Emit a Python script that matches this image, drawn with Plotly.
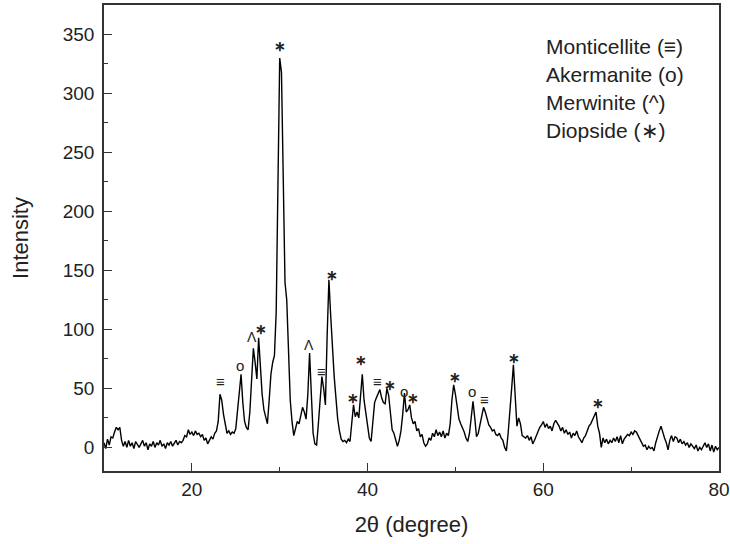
import plotly.graph_objects as go

# 2-theta grid (degrees), 0.2 step, rows of one degree
two_theta = [round(10 + 0.2 * i, 1) for i in range(351)]

intensity = (
    [4, -1, 7, 2, 9] +          # 10
    [8, 13, 17, 15, 17] +       # 11
    [6, 1, 5, 0, 6] +           # 12
    [1, 4, -1, 5, 2] +          # 13
    [0, 3, 6, 1, 4] +           # 14
    [-2, 3, 1, 5, 0] +          # 15
    [4, 2, 6, 1, 3] +           # 16
    [-1, 4, 2, 5, 1] +          # 17
    [3, 6, 2, 5, 4] +           # 18
    [6, 10, 9, 15, 11] +        # 19
    [13, 10, 14, 11, 12] +      # 20
    [9, 11, 6, 8, 3] +          # 21
    [6, 9, 7, 12, 14] +         # 22
    [22, 45, 40, 28, 20] +      # 23
    [12, 14, 11, 13, 12] +      # 24
    [16, 30, 50, 62, 38] +      # 25
    [22, 17, 15, 30, 60] +      # 26
    [84, 72, 58, 93, 70] +      # 27
    [45, 32, 25, 20, 40] +      # 28
    [62, 72, 78, 115, 250] +    # 29
    [330, 318, 205, 140, 125] + # 30
    [75, 40, 22, 10, 16] +      # 31
    [22, 20, 27, 34, 30] +      # 32
    [24, 45, 80, 45, 12] +      # 33
    [3, 2, 20, 45, 60] +        # 34
    [50, 36, 95, 142, 112] +    # 35
    [80, 60, 42, 24, 14] +      # 36
    [7, 5, 6, 4, 7] +           # 37
    [5, 20, 36, 26, 30] +       # 38
    [25, 45, 62, 40, 30] +      # 39
    [22, 8, 5, 25, 38] +        # 40
    [42, 46, 49, 42, 38] +      # 41
    [37, 50, 44, 28, 15] +      # 42
    [12, 5, 1, 6, 14] +         # 43
    [28, 46, 30, 32, 36] +      # 44
    [25, 20, 22, 14, 16] +      # 45
    [9, 11, 4, 1, 3] +          # 46
    [8, 6, 12, 9, 15] +         # 47
    [10, 13, 9, 14, 8] +        # 48
    [12, 10, 20, 40, 53] +      # 49
    [45, 33, 24, 20, 17] +      # 50
    [13, 8, 5, 12, 25] +        # 51
    [39, 25, 9, 12, 20] +       # 52
    [28, 34, 30, 24, 19] +      # 53
    [17, 14, 15, 11, 10] +      # 54
    [12, 8, 6, 0, -3] +         # 55
    [12, 35, 50, 70, 45] +      # 56
    [18, 25, 20, 10, 9] +       # 57
    [8, 10, 6, 9, 3] +          # 58
    [6, 10, 14, 17, 19] +       # 59
    [22, 17, 20, 16, 18] +      # 60
    [14, 20, 23, 21, 18] +      # 61
    [14, 17, 12, 15, 11] +      # 62
    [13, 8, 12, 10, 14] +       # 63
    [9, 6, 4, 8, 10] +          # 64
    [14, 18, 20, 23, 26] +      # 65
    [30, 18, 12, 0, 8] +        # 66
    [4, 7, 3, 6, 4] +           # 67
    [8, 5, 9, 4, 10] +          # 68
    [3, 7, 9, 11, 10] +         # 69
    [13, 11, 14, 13, 10] +      # 70
    [8, 5, 1, 2, -2] +          # 71
    [1, -1, 0, -3, 4] +         # 72
    [10, 14, 18, 12, 8] +       # 73
    [4, -2, 6, 10, 5] +         # 74
    [9, 8, 4, 7, 3] +           # 75
    [5, 2, 4, 0, 3] +           # 76
    [1, -1, 2, -3, 0] +         # 77
    [-2, 1, 4, 0, 3] +          # 78
    [-3, 2, -4, 1, -2] +        # 79
    [0]                         # 80
)

# Phase labels over peaks
label_x = [23.3, 25.45, 26.85, 27.85, 30.05, 33.3, 34.8, 35.9, 38.3, 39.3,
           41.1, 42.5, 44.1, 45.2, 49.9, 51.9, 53.3, 56.7, 66.2]
label_y = [56, 69.5, 94, 100, 340, 87, 64, 146, 42, 74,
           56, 53, 47, 41.5, 60, 47, 41, 76, 38]
label_sym = ["≡", "o", "Λ", "∗", "∗", "Λ", "≡", "∗", "∗", "∗",
             "≡", "∗", "o", "∗", "∗", "o", "≡", "∗", "∗"]

legend_lines = ["Monticellite (≡)", "Akermanite (o)", "Merwinite (^)", "Diopside (∗)"]

x_ticks = [20, 40, 60, 80]
y_ticks = [0, 50, 100, 150, 200, 250, 300, 350]

FONT = "Liberation Sans, Arial, sans-serif"
TXT = "#222222"

L, R, T, B = 104, 11, 5, 73
W, H = 730, 544
pw, ph = W - L - R, H - T - B

fig = go.Figure()
fig.add_trace(go.Scatter(
    x=two_theta, y=intensity, mode="lines",
    line=dict(color="black", width=1.4), showlegend=False,
))

sizes = {"∗": 14, "≡": 15, "o": 15, "Λ": 14}
for lx, ly, s in zip(label_x, label_y, label_sym):
    fig.add_annotation(
        x=lx, y=ly, text=("<b>%s</b>" % s) if s == "∗" else s, showarrow=False,
        xanchor="center", yanchor="middle",
        font=dict(family=FONT, size=sizes[s], color=TXT),
    )

for i, t in enumerate(legend_lines):
    fig.add_annotation(
        x=(544 - L) / pw, y=1 - (46 + 28 * i - T) / ph, xref="paper", yref="paper",
        text=t, showarrow=False, xanchor="left", yanchor="middle",
        font=dict(family=FONT, size=21, color=TXT),
    )

fig.update_layout(
    width=W, height=H,
    margin=dict(l=L, r=R, t=T, b=B, autoexpand=False),
    paper_bgcolor="white", plot_bgcolor="white",
    font=dict(family=FONT, color=TXT),
    xaxis=dict(
        range=[10, 80], tickvals=x_ticks, ticks="inside", ticklen=8, tickwidth=1.3,
        tickcolor="#333", showline=True, linecolor="#333", linewidth=1.5, mirror=True,
        showgrid=False, zeroline=False, tickfont=dict(size=19, color=TXT),
        automargin=False,
        minor=dict(tickvals=[30, 50, 70], ticks="inside", ticklen=4, tickcolor="#333"),
        title=dict(text="2θ (degree)", font=dict(size=22, color=TXT), standoff=18),
    ),
    yaxis=dict(
        range=[-20, 375], tickvals=y_ticks, ticks="inside", ticklen=8, tickwidth=1.3,
        tickcolor="#333", showline=True, linecolor="#333", linewidth=1.5, mirror=True,
        showgrid=False, zeroline=False, tickfont=dict(size=19, color=TXT),
        automargin=False, ticklabelstandoff=4,
        minor=dict(tickvals=[-25 + 50 * k for k in range(1, 8)] + [25], ticks="inside",
                   ticklen=4, tickcolor="#333"),
        title=dict(text="Intensity", font=dict(size=22, color=TXT), standoff=28),
    ),
)

fig.write_html("out.html", config={"displayModeBar": False},
               post_script="document.body.style.margin='0';")
